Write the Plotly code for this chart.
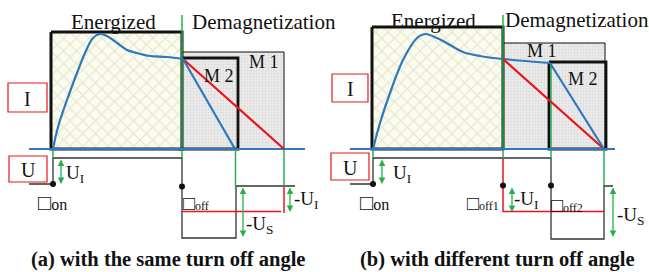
import plotly.graph_objects as go

# ---------------- schematic data (drawing units = canvas px) ----------------
# Panel (a): with the same turn off angle
a_cur_x = [53, 58, 67, 77, 85, 93, 100, 107, 117, 127, 137, 150, 167, 183]
a_cur_y = [149, 127, 100, 73, 53, 38, 34, 36, 43, 50, 53, 56, 57, 59]
a_m2_cur_x = [183, 235]
a_m2_cur_y = [59, 149]
a_m1_cur_x = [183, 284]
a_m1_cur_y = [59, 149]
a_energized = [51, 182, 32, 149]
a_m1_box = [180, 284, 52, 149]
a_m2_box = [180, 238, 58, 149]
a_base = [29, 305, 149]
a_volt_x = [29, 53, 53, 182, 182, 236, 236, 295]
a_volt_y = [184, 184, 158, 158, 238, 238, 186, 186]
a_red_x = [182, 281, None, 284, 284]
a_red_y = [211.5, 211.5, None, 187, 213]
a_green_x = [182, 182, None, 53, 53, None, 235.5, 235.5, None, 284, 284]
a_green_y = [15, 158, None, 149, 158, None, 149, 186, None, 149, 186]
a_dots_x = [53, 182]
a_dots_y = [184, 186.5]
a_arrows = [(61, 158, 184), (243, 186, 237), (290, 186, 212)]

# Panel (b): with different turn off angle
b_cur_x = [373, 380, 390, 403, 417, 425, 437, 450, 463, 480, 503, 550]
b_cur_y = [149, 123, 93, 60, 38, 34, 38, 45, 52, 56, 59, 63]
b_m2_cur_x = [550, 604]
b_m2_cur_y = [63, 149]
b_m1_cur_x = [503, 604]
b_m1_cur_y = [59, 149]
b_energized = [372, 503, 27, 149]
b_m1_box = [503, 605, 43, 149]
b_m2_box = [549, 606, 62, 149]
b_base = [350, 615, 149]
b_volt_x = [350, 373, 373, 551, 551, 604, 604, 613]
b_volt_y = [184, 184, 158, 158, 239, 239, 186, 186]
b_red_x = [503, 503, 604]
b_red_y = [158, 211.5, 211.5]
b_green_x = [503, 503, None, 373, 373, None, 551, 551, None, 604, 604]
b_green_y = [15, 158, None, 149, 158, None, 63, 158, None, 149, 186]
b_dots_x = [373, 503, 551]
b_dots_y = [184, 185.5, 185.5]
b_arrows = [(382, 158, 184), (512, 186, 212), (613, 186, 237)]

BLUE = "#2E78BC"
RED = "#E8161B"
GREEN = "#25B04B"
SERIF = '"Times New Roman", "Liberation Serif", Times, "DejaVu Serif", serif'

fig = go.Figure()


def box(b, fill=None, pattern=None, lw=1.0):
    x0, x1, y0, y1 = b
    fig.add_trace(go.Scatter(
        x=[x0, x1, x1, x0, x0], y=[y0, y0, y1, y1, y0], mode="lines",
        fill="toself" if (fill or pattern) else None,
        fillcolor=fill, fillpattern=pattern,
        line=dict(color="#111111", width=lw), hoverinfo="skip", showlegend=False))


def line(x, y, color, w):
    fig.add_trace(go.Scatter(x=x, y=y, mode="lines", line=dict(color=color, width=w),
                             hoverinfo="skip", showlegend=False))


hatch = dict(shape="x", bgcolor="#FCFCEC", fgcolor="#CDCDC4", size=9, solidity=0.25)
dots = dict(shape=".", bgcolor="#EBEBEB", fgcolor="#C8C8C8", size=3, solidity=0.3)

for (m1, m2, en, base, cx, cy, f2x, f2y, f1x, f1y, vx, vy, rx, ry, gx, gy, dx, dy, arrows) in [
    (a_m1_box, a_m2_box, a_energized, a_base, a_cur_x, a_cur_y, a_m2_cur_x, a_m2_cur_y,
     a_m1_cur_x, a_m1_cur_y, a_volt_x, a_volt_y, a_red_x, a_red_y, a_green_x, a_green_y,
     a_dots_x, a_dots_y, a_arrows),
    (b_m1_box, b_m2_box, b_energized, b_base, b_cur_x, b_cur_y, b_m2_cur_x, b_m2_cur_y,
     b_m1_cur_x, b_m1_cur_y, b_volt_x, b_volt_y, b_red_x, b_red_y, b_green_x, b_green_y,
     b_dots_x, b_dots_y, b_arrows),
]:
    box(m1, pattern=dots, lw=1.0)
    box(m2, lw=2.8)
    box(en, pattern=hatch, lw=3)
    line(vx, vy, "#333333", 1.3)
    line(rx, ry, RED, 1.5)
    line(gx, gy, GREEN, 1.5)
    line([base[0], base[1]], [base[2], base[2]], BLUE, 2.2)
    fig.add_trace(go.Scatter(x=cx, y=cy, mode="lines", line=dict(color=BLUE, width=2.2, shape="spline"),
                             hoverinfo="skip", showlegend=False))
    line(f1x, f1y, RED, 2.2)
    line(f2x, f2y, BLUE, 2.2)
    fig.add_trace(go.Scatter(x=dx, y=dy, mode="markers", marker=dict(color="#111111", size=6),
                             hoverinfo="skip", showlegend=False))
    for (xa, y0, y1) in arrows:
        fig.add_annotation(x=xa, y=y1, ax=xa, ay=y0, xref="x", yref="y", axref="x", ayref="y",
                           text="", showarrow=True, arrowside="end+start", arrowhead=2,
                           arrowsize=1.0, arrowwidth=1.3, arrowcolor=GREEN)

# red label boxes
label_boxes = [([8, 47, 83, 112], "I"), ([9, 47, 156, 182], "U"),
               ([332, 368, 74, 102], "I"), ([331, 369, 153, 180], "U")]
for (bx, t) in label_boxes:
    fig.add_shape(type="rect", x0=bx[0], x1=bx[1], y0=bx[2], y1=bx[3], xref="x", yref="y",
                  line=dict(color=RED, width=1.2), fillcolor="white")
    fig.add_annotation(x=(bx[0] + bx[1]) / 2, y=(bx[2] + bx[3]) / 2 + 1, text=t, showarrow=False,
                       font=dict(family=SERIF, size=20, color="#111111"))

sq_big = '<span style="font-size:22px">□</span>'
sq_mid = '<span style="font-size:20px">□</span>'
small = '<span style="font-size:12px">%s</span>'
texts = [
    (113, 22, "Energized", 21, "center"),
    (190, 22, "Demagnetization", 21, "left"),
    (433, 21, "Energized", 21, "center"),
    (503, 20, "Demagnetization", 21, "left"),
    (264, 62, "M 1", 18, "center"),
    (219, 76, "M 2", 18, "center"),
    (542, 51, "M 1", 18, "center"),
    (583, 79, "M 2", 18, "center"),
    (64, 174, "U<sub>I</sub>", 19, "left"),
    (391, 174, "U<sub>I</sub>", 19, "left"),
    (292, 200, "-U<sub>I</sub>", 19, "left"),
    (512, 200, "-U<sub>I</sub>", 19, "left"),
    (244, 225, "-U<sub>S</sub>", 19, "left"),
    (615, 216, "-U<sub>S</sub>", 19, "left"),
    (36, 202, sq_big + "on", 16, "left"),
    (358, 202, sq_big + "on", 16, "left"),
    (181, 203, sq_mid + small % "off", 16, "left"),
    (465, 203, sq_mid + small % "off1", 16, "left"),
    (549, 205, sq_mid + small % "off2", 16, "left"),
]
for (x, y, t, s, anc) in texts:
    fig.add_annotation(x=x, y=y, text=t, showarrow=False, xanchor=anc, yanchor="middle",
                       font=dict(family=SERIF, size=s, color="#111111"))

captions = [(168, 259, "(a) with the same turn off angle"),
            (497, 259, "(b) with different turn off angle")]
for (x, y, t) in captions:
    fig.add_annotation(x=x, y=y, text="<b>%s</b>" % t, showarrow=False, yanchor="middle",
                       font=dict(family=SERIF, size=20.5, color="#111111"))

fig.update_layout(
    width=649, height=272, margin=dict(l=0, r=0, t=0, b=0),
    paper_bgcolor="white", plot_bgcolor="white", showlegend=False,
    xaxis=dict(range=[0, 649], visible=False, fixedrange=True),
    yaxis=dict(range=[272, 0], visible=False, fixedrange=True),
)
fig.write_html("out.html", config={"displayModeBar": False},
               post_script="document.body.style.margin='0px';")
